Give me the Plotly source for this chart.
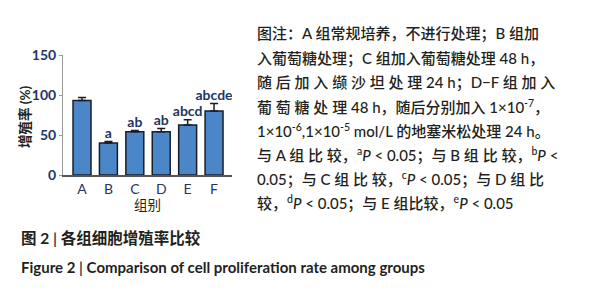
import plotly.graph_objects as go

groups = ["A", "B", "C", "D", "E", "F"]
rates = [93, 40, 54, 54, 62.5, 80]
errors = [4, 2, 1.5, 4, 6.5, 9.5]
sig_labels = ["", "a", "ab", "ab", "abcd", "abcde"]
y_ticks = [0, 50, 100, 150]
y_title = "增殖率 (%)"
x_title = "组别"

note_lines = [
    "图注：A 组常规培养，不进行处理；B 组加",
    "入葡萄糖处理；C 组加入葡萄糖处理 48 h，",
    "随 后 加 入 缬 沙 坦 处 理 24 h；D−F 组 加 入",
    "葡 萄 糖 处 理 48 h，随后分别加入 1×10<sup>-7</sup>，",
    "1×10<sup>-6</sup>,1×10<sup>-5</sup> mol/L 的地塞米松处理 24 h。",
    "与 A 组 比 较，<sup>a</sup><i>P</i> < 0.05；与 B 组 比 较，<sup>b</sup><i>P</i> <",
    "0.05；与 C 组 比 较，<sup>c</sup><i>P</i> < 0.05；与 D 组 比",
    "较，<sup>d</sup><i>P</i> < 0.05；与 E 组比较，<sup>e</sup><i>P</i> < 0.05",
]
caption_cn = "图 2 <span style='color:#444'>|</span> 各组细胞增殖率比较"
caption_en = "Figure 2 <span style='color:#444'>|</span> Comparison of cell proliferation rate among groups"

FONT = "Lato, 'Noto Sans CJK SC', sans-serif"
TXT = "#231f20"
NAVY = "#1f3564"

# page has an 8px body margin; work in page pixels and convert
OFF = 8
W, H = 589 - OFF, 300 - OFF
PL, PR, PT, PB = 63, 232, 55, 175  # plot area in page pixels


def px_x(x):
    return (x - PL) / (PR - PL)


def px_y(y):
    return (PB - y) / (PB - PT)


fig = go.Figure()
fig.add_trace(go.Bar(
    x=groups, y=rates, width=0.68,
    marker=dict(color="#4a86c8", line=dict(color="#1c1c28", width=1.5)),
    error_y=dict(type="data", array=errors, arrayminus=[0] * len(errors), symmetric=False,
                 color="#1c1c28", thickness=1.5, width=4),
    showlegend=False,
))
fig.add_trace(go.Scatter(
    x=groups, y=[r + e for r, e in zip(rates, errors)], mode="text",
    text=[f"<b>{s}</b>" for s in sig_labels], textposition="top center",
    textfont=dict(size=14, color=NAVY, family=FONT), showlegend=False,
))

fig.update_layout(
    width=W, height=H,
    margin=dict(l=PL - OFF, r=W - (PR - OFF), t=PT - OFF, b=H - (PB - OFF)),
    paper_bgcolor="white", plot_bgcolor="white",
    font=dict(family=FONT, color=TXT),
)
fig.update_xaxes(
    range=[-0.72, 5.68], showline=True, linecolor="#555", linewidth=1.5,
    ticks="", tickfont=dict(size=14, color=NAVY),
    ticklabelstandoff=0,
    title=dict(text=x_title, font=dict(size=13.5, color=TXT), standoff=0),
)
fig.update_yaxes(
    range=[0, 150], tickvals=y_ticks, ticktext=[f"<b>{v}</b>" for v in y_ticks],
    showline=True, linecolor="#999", linewidth=1, showgrid=False, zeroline=False,
    ticks="outside", ticklen=3, tickcolor="#999",
    tickfont=dict(size=14, color=NAVY),
)
fig.add_annotation(
    text=f"<b>{y_title}</b>", xref="paper", yref="paper",
    x=px_x(25), y=px_y(117), textangle=-90,
    xanchor="center", yanchor="middle", showarrow=False,
    font=dict(size=13.5, color=TXT, family=FONT),
)

line_y = [33, 58, 82, 106, 130, 155, 179, 203]
for txt, yy in zip(note_lines, line_y):
    fig.add_annotation(
        text=txt, xref="paper", yref="paper",
        x=px_x(255), y=px_y(yy),
        xanchor="left", yanchor="middle", showarrow=False,
        font=dict(size=15, color=TXT, family=FONT, weight=500),
    )

fig.add_annotation(
    text=f"<b>{caption_cn}</b>", xref="paper", yref="paper",
    x=px_x(19), y=px_y(238),
    xanchor="left", yanchor="middle", showarrow=False,
    font=dict(size=15.5, color=TXT, family=FONT),
)
fig.add_annotation(
    text=f"<b>{caption_en}</b>", xref="paper", yref="paper",
    x=px_x(19), y=px_y(267),
    xanchor="left", yanchor="middle", showarrow=False,
    font=dict(size=15, color=TXT, family=FONT),
)

fig.write_html("out.html")
